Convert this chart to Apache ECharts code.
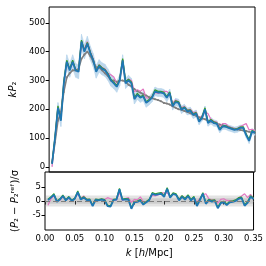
<!DOCTYPE html>
<html><head><meta charset="utf-8">
<script src="https://cdn.jsdelivr.net/npm/echarts@6/dist/echarts.min.js"></script>
<style>html,body{margin:0;padding:0;background:#fff}#c{width:266px;height:266px}</style>
</head><body><div id="c"></div>
<script>
const kVals = [0.005,0.010,0.015,0.020,0.025,0.030,0.035,0.040,0.045,0.050,0.055,0.060,0.065,0.070,0.075,0.080,0.085,0.090,0.095,0.100,
0.105,0.110,0.115,0.120,0.125,0.130,0.135,0.140,0.145,0.150,0.155,0.160,0.165,0.170,0.175,0.180,0.185,0.190,0.195,0.200,
0.205,0.210,0.215,0.220,0.225,0.230,0.235,0.240,0.245,0.250,0.255,0.260,0.265,0.270,0.275,0.280,0.285,0.290,0.295,0.300,
0.305,0.310,0.315,0.320,0.325,0.330,0.335,0.340,0.345,0.350];
const kP2Blue = [10,100,205,160,290,365,335,365,335,330,435,400,428,395,370,330,350,340,335,320,
300,290,278,300,370,290,300,290,235,250,240,245,222,230,240,262,258,258,255,240,
256,210,225,222,198,205,192,195,180,185,157,170,200,152,160,152,150,128,140,140,
135,132,128,130,135,135,110,90,123,118];
const kP2Err = [8,14,18,20,22,24,24,24,24,24,25,25,25,24,23,22,22,21,21,20,
20,19,19,19,19,18,18,17,17,16,16,16,15,15,15,15,14,14,14,14,
14,13,13,13,13,12,12,12,12,12,11,11,11,11,11,11,10,10,10,10,
10,10,10,10,10,9,9,9,9,9];
const kP2Green = [12,104,212,165,296,370,340,370,338,335,440,404,432,398,372,334,354,344,338,324,
304,294,282,304,376,296,304,294,240,255,244,248,226,234,244,268,262,262,259,244,
260,214,229,226,202,208,196,198,184,188,161,174,205,156,164,156,153,132,143,143,
138,135,131,133,138,139,114,95,126,121];
const kP2Orange = [11,102,208,163,293,368,338,368,336,333,437,402,430,397,371,332,352,342,336,322,
302,292,280,302,373,293,302,292,238,253,242,246,224,232,242,265,260,260,257,242,
258,212,227,224,200,206,194,196,182,186,159,172,202,154,162,154,151,130,141,141,
136,133,129,131,136,137,112,92,124,119];
const kP2Pink = [0,95,200,170,285,360,340,360,340,335,425,410,435,400,375,335,355,345,340,325,
320,312,290,300,360,295,305,300,260,268,262,270,240,238,245,258,255,258,262,262,
252,220,232,226,205,210,198,200,188,190,168,178,190,185,165,158,155,140,150,150,
140,136,132,133,140,145,150,128,130,125];
const kP2Ref = [15,85,160,190,260,310,325,335,335,340,375,390,400,385,365,345,345,335,325,315,
300,300,295,300,300,295,285,280,270,262,258,252,248,242,238,235,232,228,222,220,
216,210,205,200,198,194,190,186,182,177,172,168,165,160,157,153,150,147,144,140,
138,135,132,130,128,126,124,122,120,118];
const residBlue = [0.3,1.2,2.2,-0.3,0.5,1.8,0.2,1.3,0.0,0.8,3.2,0.5,1.2,0.3,0.4,-1.8,0.4,0.2,0.5,0.2,
-1.8,-2.0,0.3,0.5,4.2,0.4,0.6,0.5,-2.8,-0.5,-0.3,0.2,-1.3,-0.5,0.3,2.6,2.2,2.4,2.6,1.5,
4.4,1.2,2.5,2.2,0.2,1.5,0.5,1.8,0.2,1.2,-1.8,0.3,2.6,-1.0,0.2,-0.2,0.0,-2.6,-0.8,-0.5,
-1.5,-0.5,-0.3,0.0,0.8,1.0,-1.7,-0.7,1.5,0.7];
const residGreen = [0.6,1.5,2.6,0.0,0.8,2.1,0.5,1.6,0.3,1.1,3.6,0.8,1.5,0.6,0.7,-1.5,0.7,0.5,0.8,0.5,
-1.5,-1.7,0.6,0.8,4.5,0.7,0.9,0.8,-2.4,-0.2,0.0,0.5,-1.0,-0.2,0.6,3.0,2.6,2.8,3.0,1.9,
4.8,1.6,2.9,2.6,0.6,1.9,0.9,2.2,0.6,1.6,-1.4,0.7,3.0,-0.6,0.6,0.2,0.4,-2.2,-0.4,-0.1,
-1.1,-0.1,0.1,0.4,1.2,1.4,-1.3,-0.3,1.9,1.1];
const residPink = [-1.5,0.8,1.8,0.2,0.2,1.5,0.5,1.0,0.3,0.9,2.5,1.0,1.8,0.6,0.6,-1.5,0.6,0.4,0.7,0.5,
1.2,0.8,0.5,0.3,3.0,0.2,0.9,1.2,-0.5,0.6,0.4,1.5,-0.3,-0.3,0.5,2.0,1.8,2.2,3.0,2.8,
3.0,1.5,2.8,2.3,0.6,1.8,0.8,1.6,0.6,1.3,-0.5,1.0,2.2,2.6,0.8,0.4,0.4,-0.8,0.6,0.8,
0.2,0.1,0.0,0.3,1.2,1.8,2.6,1.2,2.4,0.8];
const sigmaBands = [2, 1];
const topTicks = [0,100,200,300,400,500];
const botTicks = [-5,0,5];

const pairs = a => kVals.map((k,i)=>[k,a[i]]);
const bandData = kVals.map((k,i)=>[k, kP2Blue[i]-kP2Err[i], kP2Blue[i]+kP2Err[i]]);

const FONT = 'DejaVu Sans';
const rich = {i:{fontStyle:'italic', fontFamily:FONT, fontSize:10, color:'#000'}};
const chart = echarts.init(document.getElementById('c'), null, {renderer:'canvas'});
chart.setOption({
  animation:false,
  grid:[
    {left:45, top:7, width:210, height:165, show:true, borderColor:'#000', borderWidth:1, backgroundColor:'transparent'},
    {left:45, top:172, width:210, height:58, show:true, borderColor:'#000', borderWidth:1, backgroundColor:'transparent'}
  ],
  xAxis:[
    {type:'value', gridIndex:0, min:0, max:0.35, interval:0.05, axisLine:{show:false}, axisTick:{show:false}, axisLabel:{show:false}, splitLine:{show:false}},
    {type:'value', gridIndex:1, min:0, max:0.35, interval:0.05, axisLine:{show:false},
     axisTick:{show:true, inside:false, length:3.5, lineStyle:{color:'#000'}},
     axisLabel:{color:'#000', fontFamily:FONT, fontSize:8.5, margin:4, formatter:v=>v.toFixed(2)},
     splitLine:{show:false},
     name:'{i|k} [{i|h}/Mpc]', nameLocation:'middle', nameGap:18,
     nameTextStyle:{color:'#000', fontFamily:FONT, fontSize:10, rich}}
  ],
  yAxis:[
    {type:'value', gridIndex:0, min:-18, max:555, axisLine:{show:false},
     axisTick:{show:true, length:3.5, lineStyle:{color:'#000'}, customValues:topTicks},
     axisLabel:{color:'#000', fontFamily:FONT, fontSize:8.5, margin:4, customValues:topTicks},
     splitLine:{show:false},
     name:'{i|kP}₂', nameLocation:'middle', nameGap:27, nameRotate:90,
     nameTextStyle:{color:'#000', fontFamily:FONT, fontSize:10, rich}},
    {type:'value', gridIndex:1, min:-10.4, max:10.4, axisLine:{show:false},
     axisTick:{show:true, length:3.5, lineStyle:{color:'#000'}, customValues:botTicks},
     axisLabel:{color:'#000', fontFamily:FONT, fontSize:8.5, margin:4, customValues:botTicks},
     splitLine:{show:false},
     name:'({i|P}₂ − {i|P}₂ʳᵉᶠ)/σ', nameLocation:'middle', nameGap:25, nameRotate:90,
     nameTextStyle:{color:'#000', fontFamily:FONT, fontSize:10, rich}}
  ],
  series:[
    {type:'custom', xAxisIndex:0, yAxisIndex:0, data:bandData, silent:true, z:1,
     encode:{x:0, y:[1,2]},
     renderItem:function(params, api){
       const i = params.dataIndex;
       if (i >= bandData.length-1) return null;
       const a = bandData[i], b = bandData[i+1];
       const p1 = api.coord([a[0], a[1]]), p2 = api.coord([a[0], a[2]]);
       const p3 = api.coord([b[0], b[2]]), p4 = api.coord([b[0], b[1]]);
       return {type:'polygon', shape:{points:[p1,p2,p3,p4]}, style:{fill:'#bcd7ec', stroke:'#bcd7ec', lineWidth:0.6}};
     }},
    {type:'line', xAxisIndex:0, yAxisIndex:0, data:pairs(kP2Ref), symbol:'circle', symbolSize:2, z:3, itemStyle:{color:'#7f7f7f'}, lineStyle:{color:'#7f7f7f', width:1.6}},
    {type:'line', xAxisIndex:0, yAxisIndex:0, data:pairs(kP2Pink), symbol:'none', z:3, lineStyle:{color:'#e377c2', width:1.2}},
    {type:'line', xAxisIndex:0, yAxisIndex:0, data:pairs(kP2Orange), symbol:'none', z:3, lineStyle:{color:'#ff7f0e', width:1.2}},
    {type:'line', xAxisIndex:0, yAxisIndex:0, data:pairs(kP2Green), symbol:'none', z:3, lineStyle:{color:'#2ca02c', width:1.2}},
    {type:'line', xAxisIndex:0, yAxisIndex:0, data:pairs(kP2Blue), symbol:'none', z:4, lineStyle:{color:'#1f77b4', width:1.8}},

    {type:'line', xAxisIndex:1, yAxisIndex:1, data:pairs(residPink), symbol:'none', lineStyle:{color:'#e377c2', width:1.2},
     markArea:{silent:true, itemStyle:{color:'rgba(128,128,128,0.22)'}, data:sigmaBands.map(s=>[{yAxis:-s},{yAxis:s}])},
     markLine:{silent:true, symbol:'none', label:{show:false}, lineStyle:{color:'#7f7f7f', type:[5,3], width:1.2}, data:[{yAxis:0}]}},
    {type:'line', xAxisIndex:1, yAxisIndex:1, data:pairs(residGreen), symbol:'none', lineStyle:{color:'#2ca02c', width:1.2}},
    {type:'line', xAxisIndex:1, yAxisIndex:1, data:pairs(residBlue), symbol:'none', lineStyle:{color:'#1f77b4', width:1.8}}
  ]
});
</script></body></html>
